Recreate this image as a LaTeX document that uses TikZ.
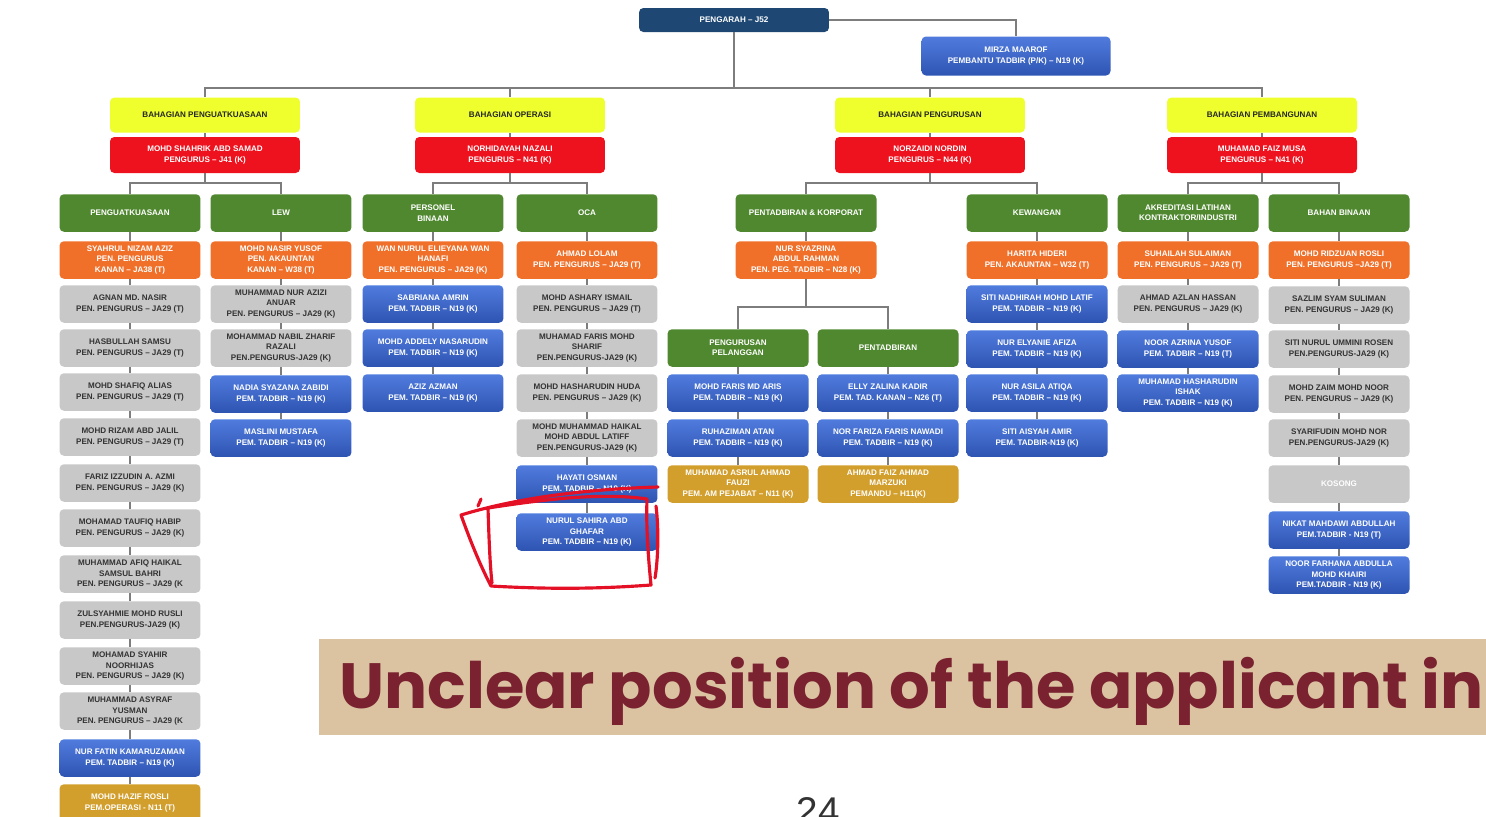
\documentclass[tikz,border=0pt]{standalone}
\usepackage{fontspec}
\newfontfamily\boxfont{Liberation Sans}
\newfontfamily\bannerfont{Poppins}
\newfontfamily\pagefont{Liberation Sans}
\definecolor{cnavy}{RGB}{30,72,115}
\definecolor{cbluetop}{RGB}{80,124,222}
\definecolor{cbluebot}{RGB}{46,84,178}
\definecolor{cyel}{RGB}{238,255,45}
\definecolor{cred}{RGB}{238,18,30}
\definecolor{cgreen}{RGB}{80,136,48}
\definecolor{corange}{RGB}{240,112,42}
\definecolor{cgrey}{RGB}{200,200,200}
\definecolor{cgold}{RGB}{210,158,44}
\definecolor{cline}{RGB}{125,125,125}
\definecolor{cbanner}{RGB}{219,195,162}
\definecolor{cmaroon}{RGB}{122,34,48}
\definecolor{cpen}{RGB}{228,16,38}
\begin{document}
\begin{tikzpicture}[x=0.02cm,y=-0.02cm,
	box/.style={rounded corners=2.5pt,minimum width=2.82cm,minimum height=0.75cm,inner sep=0.5pt,align=center,font=\boxfont\fontsize{4.6}{5.9}\selectfont\bfseries},
	navy/.style={box,fill=cnavy,text=white,minimum width=3.8cm,minimum height=0.48cm},
	sect/.style={box,fill=cyel,text=black!85,minimum width=3.8cm,minimum height=0.7cm},
	chief/.style={box,fill=cred,text=white,minimum width=3.8cm,minimum height=0.72cm},
	unit/.style={box,fill=cgreen,text=white},
	lead/.style={box,fill=corange,text=white},
	staff/.style={box,fill=cgrey,text=black!80},
	tadbir/.style={box,top color=cbluetop,bottom color=cbluebot,text=white},
	sokong/.style={box,fill=cgold,text=white},
	link/.style={draw=cline,line width=0.6pt},
	scribble/.style={draw=cpen,line width=1.8pt,line cap=round,line join=round}]
	\useasboundingbox (0,0) rectangle (1486,816);
	\clip (0,0) rectangle (1486,816);
	\coordinate (bus) at (0,88);
	\coordinate (sub) at (0,183);
	\coordinate (sub2) at (0,307);
	% pengarah
	\node[navy] (dir) at (734,20) {PENGARAH – J52};
	\node[tadbir,minimum width=3.78cm,minimum height=0.78cm] (pt) at (1016,56) {MIRZA MAAROF\\PEMBANTU TADBIR (P/K) – N19 (K)};
	% bahagian
	\node[sect] (bpk) at (205,115) {BAHAGIAN PENGUATKUASAAN};
	\node[sect] (bop) at (510,115) {BAHAGIAN OPERASI};
	\node[sect] (bpg) at (930,115) {BAHAGIAN PENGURUSAN};
	\node[sect] (bpb) at (1262,115) {BAHAGIAN PEMBANGUNAN};
	\node[chief] (rpk) at (205,155) {MOHD SHAHRIK ABD SAMAD\\PENGURUS – J41 (K)};
	\node[chief] (rop) at (510,155) {NORHIDAYAH NAZALI\\PENGURUS – N41 (K)};
	\node[chief] (rpg) at (930,155) {NORZAIDI NORDIN\\PENGURUS – N44 (K)};
	\node[chief] (rpb) at (1262,155) {MUHAMAD FAIZ MUSA\\PENGURUS – N41 (K)};
	% unit
	\node[unit] (a) at (130,213) {PENGUATKUASAAN};
	\node[unit] (b) at (281,213) {LEW};
	\node[unit] (c) at (433,213) {PERSONEL\\BINAAN};
	\node[unit] (d) at (587,213) {OCA};
	\node[unit] (e) at (806,213) {PENTADBIRAN \& KORPORAT};
	\node[unit] (h) at (1037,213) {KEWANGAN};
	\node[unit] (i) at (1188,213) {AKREDITASI LATIHAN\\KONTRAKTOR/INDUSTRI};
	\node[unit] (j) at (1339,213) {BAHAN BINAAN};
	\node[unit] (f) at (738,348) {PENGURUSAN\\PELANGGAN};
	\node[unit] (g) at (888,348) {PENTADBIRAN};
	% penguatkuasaan
	\node[lead] (a0) at (130,260) {SYAHRUL NIZAM AZIZ\\PEN. PENGURUS\\KANAN – JA38 (T)};
	\node[staff] (a1) at (130,304) {AGNAN MD. NASIR\\PEN. PENGURUS – JA29 (T)};
	\node[staff] (a2) at (130,348) {HASBULLAH SAMSU\\PEN. PENGURUS – JA29 (T)};
	\node[staff] (a3) at (130,392) {MOHD SHAFIQ ALIAS\\PEN. PENGURUS – JA29 (T)};
	\node[staff] (a4) at (130,437) {MOHD RIZAM ABD JALIL\\PEN. PENGURUS – JA29 (T)};
	\node[staff] (a5) at (130,483) {FARIZ IZZUDIN A. AZMI\\PEN. PENGURUS – JA29 (K)};
	\node[staff] (a6) at (130,528) {MOHAMAD TAUFIQ HABIP\\PEN. PENGURUS – JA29 (K)};
	\node[staff] (a7) at (130,574) {MUHAMMAD AFIQ HAIKAL\\SAMSUL BAHRI\\PEN. PENGURUS – JA29 (K};
	\node[staff] (a8) at (130,620) {ZULSYAHMIE MOHD RUSLI\\PEN.PENGURUS-JA29 (K)};
	\node[staff] (a9) at (130,666) {MOHAMAD SYAHIR\\NOORHIJAS\\PEN. PENGURUS – JA29 (K)};
	\node[staff] (a10) at (130,711) {MUHAMMAD ASYRAF\\YUSMAN\\PEN. PENGURUS – JA29 (K};
	\node[tadbir] (a11) at (130,758) {NUR FATIN KAMARUZAMAN\\PEM. TADBIR – N19 (K)};
	\node[sokong] (a12) at (130,803) {MOHD HAZIF ROSLI\\PEM.OPERASI - N11 (T)};
	% lew
	\node[lead] (b0) at (281,260) {MOHD NASIR YUSOF\\PEN. AKAUNTAN\\KANAN – W38 (T)};
	\node[staff] (b1) at (281,304) {MUHAMMAD NUR AZIZI\\ANUAR\\PEN. PENGURUS – JA29 (K)};
	\node[staff] (b2) at (281,348) {MOHAMMAD NABIL ZHARIF\\RAZALI\\PEN.PENGURUS-JA29 (K)};
	\node[tadbir] (b3) at (281,394) {NADIA SYAZANA ZABIDI\\PEM. TADBIR – N19 (K)};
	\node[tadbir] (b4) at (281,438) {MASLINI MUSTAFA\\PEM. TADBIR – N19 (K)};
	% personel binaan
	\node[lead] (c0) at (433,260) {WAN NURUL ELIEYANA WAN\\HANAFI\\PEN. PENGURUS – JA29 (K)};
	\node[tadbir] (c1) at (433,304) {SABRIANA AMRIN\\PEM. TADBIR – N19 (K)};
	\node[tadbir] (c2) at (433,348) {MOHD ADDELY NASARUDIN\\PEM. TADBIR – N19 (K)};
	\node[tadbir] (c3) at (433,393) {AZIZ AZMAN\\PEM. TADBIR – N19 (K)};
	% oca
	\node[lead] (d0) at (587,260) {AHMAD LOLAM\\PEN. PENGURUS – JA29 (T)};
	\node[staff] (d1) at (587,304) {MOHD ASHARY ISMAIL\\PEN. PENGURUS – JA29 (T)};
	\node[staff] (d2) at (587,348) {MUHAMAD FARIS MOHD\\SHARIF\\PEN.PENGURUS-JA29 (K)};
	\node[staff] (d3) at (587,393) {MOHD HASHARUDIN HUDA\\PEN. PENGURUS – JA29 (K)};
	\node[staff] (d4) at (587,438) {MOHD MUHAMMAD HAIKAL\\MOHD ABDUL LATIFF\\PEN.PENGURUS-JA29 (K)};
	\node[tadbir] (d5) at (587,484) {HAYATI OSMAN\\PEM. TADBIR – N19 (K)};
	\node[tadbir] (d6) at (587,532) {NURUL SAHIRA ABD\\GHAFAR\\PEM. TADBIR – N19 (K)};
	% pentadbiran & korporat
	\node[lead] (e0) at (806,260) {NUR SYAZRINA\\ABDUL RAHMAN\\PEN. PEG. TADBIR – N28 (K)};
	\node[tadbir] (f1) at (738,393) {MOHD FARIS MD ARIS\\PEM. TADBIR – N19 (K)};
	\node[tadbir] (f2) at (738,438) {RUHAZIMAN ATAN\\PEM. TADBIR – N19 (K)};
	\node[sokong] (f3) at (738,484) {MUHAMAD ASRUL AHMAD\\FAUZI\\PEM. AM PEJABAT – N11 (K)};
	\node[tadbir] (g1) at (888,393) {ELLY ZALINA KADIR\\PEM. TAD. KANAN – N26 (T)};
	\node[tadbir] (g2) at (888,438) {NOR FARIZA FARIS NAWADI\\PEM. TADBIR – N19 (K)};
	\node[sokong] (g3) at (888,484) {AHMAD FAIZ AHMAD\\MARZUKI\\PEMANDU – H11(K)};
	% kewangan
	\node[lead] (h0) at (1037,260) {HARITA HIDERI\\PEN. AKAUNTAN – W32 (T)};
	\node[tadbir] (h1) at (1037,304) {SITI NADHIRAH MOHD LATIF\\PEM. TADBIR – N19 (K)};
	\node[tadbir] (h2) at (1037,349) {NUR ELYANIE AFIZA\\PEM. TADBIR – N19 (K)};
	\node[tadbir] (h3) at (1037,393) {NUR ASILA ATIQA\\PEM. TADBIR – N19 (K)};
	\node[tadbir] (h4) at (1037,438) {SITI AISYAH AMIR\\PEM. TADBIR-N19 (K)};
	% akreditasi
	\node[lead] (i0) at (1188,260) {SUHAILAH SULAIMAN\\PEN. PENGURUS – JA29 (T)};
	\node[staff] (i1) at (1188,304) {AHMAD AZLAN HASSAN\\PEN. PENGURUS – JA29 (K)};
	\node[tadbir] (i2) at (1188,349) {NOOR AZRINA YUSOF\\PEM. TADBIR – N19 (T)};
	\node[tadbir] (i3) at (1188,393) {MUHAMAD HASHARUDIN\\ISHAK\\PEM. TADBIR – N19 (K)};
	% bahan binaan
	\node[lead] (j0) at (1339,260) {MOHD RIDZUAN ROSLI\\PEN. PENGURUS –JA29 (T)};
	\node[staff] (j1) at (1339,305) {SAZLIM SYAM SULIMAN\\PEN. PENGURUS – JA29 (K)};
	\node[staff] (j2) at (1339,349) {SITI NURUL UMMINI ROSEN\\PEN.PENGURUS-JA29 (K)};
	\node[staff] (j3) at (1339,394) {MOHD ZAIM MOHD NOOR\\PEN. PENGURUS – JA29 (K)};
	\node[staff] (j4) at (1339,438) {SYARIFUDIN MOHD NOR\\PEN.PENGURUS-JA29 (K)};
	\node[staff,text=white] (j5) at (1339,484) {KOSONG};
	\node[tadbir] (j6) at (1339,530) {NIKAT MAHDAWI ABDULLAH\\PEM.TADBIR - N19 (T)};
	\node[tadbir] (j7) at (1339,575) {NOOR FARHANA ABDULLA\\MOHD KHAIRI\\PEM.TADBIR - N19 (K)};
	% connectors
	\foreach \s in {bpk,bop,bpg,bpb} \draw[link] (dir.south) |- (bus -| \s) -- (\s.north);
	\draw[link] (dir.east) -| (pt.north);
	\foreach \s/\r in {bpk/rpk,bop/rop,bpg/rpg,bpb/rpb} \draw[link] (\s) -- (\r);
	\foreach \r/\u in {rpk/a,rpk/b,rop/c,rop/d,rpg/e,rpg/h,rpb/i,rpb/j} \draw[link] (\r.south) |- (sub -| \u) -- (\u.north);
	\draw[link] (e) -- (e0);
	\foreach \u in {f,g} \draw[link] (e0.south) |- (sub2 -| \u) -- (\u.north);
	\foreach \col/\n in {a/12,b/4,c/3,d/6,h/4,i/3,j/7}{
		\draw[link] (\col) -- (\col0);
		\foreach \k [count=\p from 0] in {1,...,\n} \draw[link] (\col\p) -- (\col\k);
	}
	\foreach \col in {f,g}{
		\draw[link] (\col) -- (\col1);
		\foreach \k [count=\p from 1] in {2,3} \draw[link] (\col\p) -- (\col\k);
	}
	% hand-drawn mark
	\draw[scribble] (658,487) .. controls (590,489) and (520,497) .. (461,515) .. controls (470,540) and (480,565) .. (491,586) .. controls (560,590) and (610,588) .. (651,585) .. controls (648,555) and (646,525) .. (647,499) .. controls (600,492) and (540,500) .. (488,508) .. controls (489,540) and (490,565) .. (492,583);
	\draw[scribble] (656,506) .. controls (659,530) and (658,560) .. (655,578);
	\draw[scribble] (478,506) -- (481,499);
	% banner
	\node[fill=cbanner,anchor=north west,minimum width=23.34cm,minimum height=1.92cm,inner sep=0] (band) at (319,639) {};
	\node[anchor=base west,inner sep=0,text=cmaroon,font=\bannerfont\bfseries\fontsize{36.4}{36.4}\selectfont] (ttl) at (339,708) {Unclear position of the applicant in};
	\node[anchor=base,inner sep=0,text=black!80,font=\pagefont\fontsize{22}{22}\selectfont] (pg) at (818,824) {24};
\end{tikzpicture}
\end{document}
